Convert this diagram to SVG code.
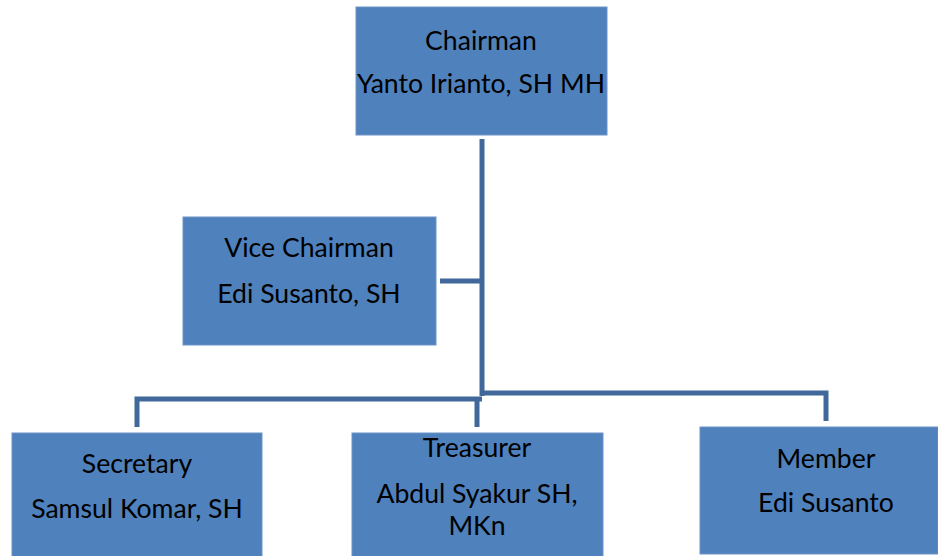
<svg xmlns="http://www.w3.org/2000/svg" width="938" height="556" viewBox="0 0 938 556">
<style>
.box{fill:#4F81BD;stroke:#6E93C8;stroke-width:1}
.t{font-family:Lato,"Liberation Sans",sans-serif;font-size:26.6px;fill:#000;text-anchor:middle}
.c{fill:none;stroke:#41689A;stroke-width:5;stroke-linejoin:miter}
</style>
<rect width="938" height="556" fill="#fff"/>
<g id="connectors">
<path class="c" d="M482 139V396"/>
<path class="c" d="M440 281H482"/>
<path class="c" d="M137 427V399H482"/>
<path class="c" d="M477 399V427"/>
<path class="c" d="M480 393H826V421"/>
</g>
<g id="chairman">
<rect class="box" x="356" y="7" width="251" height="128"/>
<text class="t" x="481" y="50">Chairman</text>
<text class="t" x="481" y="93">Yanto Irianto, SH MH</text>
</g>
<g id="vice">
<rect class="box" x="183" y="217" width="253" height="128"/>
<text class="t" x="309" y="257">Vice Chairman</text>
<text class="t" x="309" y="303">Edi Susanto, SH</text>
</g>
<g id="secretary">
<rect class="box" x="12" y="433" width="250" height="130"/>
<text class="t" x="137" y="473">Secretary</text>
<text class="t" x="137" y="518">Samsul Komar, SH</text>
</g>
<g id="treasurer">
<rect class="box" x="352" y="433" width="251" height="130"/>
<text class="t" x="477" y="457">Treasurer</text>
<text class="t" x="477" y="503">Abdul Syakur SH,</text>
<text class="t" x="477" y="535">MKn</text>
</g>
<g id="member">
<rect class="box" x="700" y="427" width="238" height="127"/>
<text class="t" x="826" y="468">Member</text>
<text class="t" x="826" y="512">Edi Susanto</text>
</g>
</svg>
